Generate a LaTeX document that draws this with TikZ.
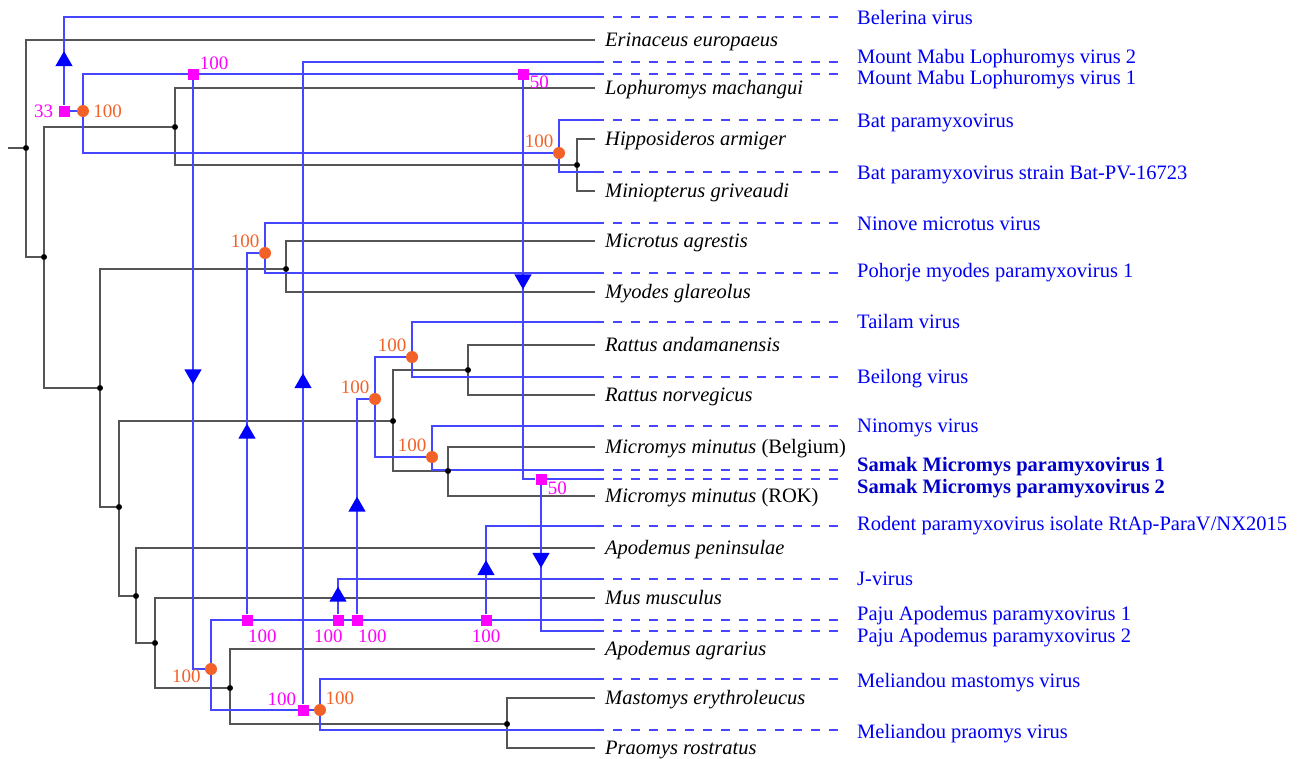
\documentclass[tikz,border=0pt]{standalone}
\usepackage{fontspec}
\setmainfont{Liberation Serif}
\usetikzlibrary{shapes.geometric,backgrounds}

\definecolor{azul}{RGB}{70,70,255}
\definecolor{azulfuerte}{RGB}{0,0,255}
\definecolor{azultexto}{RGB}{0,0,245}
\definecolor{azulsamak}{RGB}{0,0,200}
\definecolor{rosa}{RGB}{255,0,255}
\definecolor{naranja}{RGB}{242,98,40}
\definecolor{gris}{RGB}{85,85,85}

\tikzset{
  huesped/.style={draw=gris, line width=1.2pt},
  virus/.style={draw=azul, line width=1.2pt},
  guion/.style={draw=azul, line width=1.2pt, dash pattern=on 9pt off 9pt},
  punto/.style={circle, fill=black, minimum size=6pt, inner sep=0pt},
  cosp/.style={circle, fill=naranja, minimum size=12pt, inner sep=0pt},
  dupl/.style={rectangle, fill=rosa, minimum size=11pt, inner sep=0pt},
  arriba/.style={regular polygon, regular polygon sides=3, fill=azulfuerte, minimum size=20pt, inner sep=0pt},
  abajo/.style={arriba, regular polygon rotate=180},
  nomhue/.style={anchor=west, inner xsep=10pt, inner ysep=1pt, text height=13.5pt, text depth=0pt,
    font=\fontsize{20.5}{24}\selectfont\itshape},
  nomvir/.style={anchor=west, inner xsep=12pt, inner ysep=1pt, text height=13.5pt, text depth=0pt,
    text=azultexto, font=\fontsize{20.5}{24}\selectfont},
  numr/.style={text=rosa, inner sep=1pt, font=\fontsize{19}{19}\selectfont},
  numn/.style={numr, text=naranja},
}

\begin{document}
\begin{tikzpicture}[x=1pt, y=-1pt]
  \useasboundingbox (0,0) rectangle (1298,758);

  % Arbol de huespedes
  \coordinate (raiz) at (8,148);
  \node[punto] (hR) at (26,148) {};
  \node[punto] (hA) at (44,257) {};
  \node[punto] (hB) at (175,127) {};
  \node[punto] (hC) at (577,165) {};
  \node[punto] (hD) at (100,388) {};
  \node[punto] (hE) at (286,269) {};
  \node[punto] (hF) at (119,507) {};
  \node[punto] (hG) at (393,421) {};
  \node[punto] (hI) at (468,370) {};
  \node[punto] (hJ) at (448,471) {};
  \node[punto] (hH) at (136,596) {};
  \node[punto] (hK) at (155,643) {};
  \node[punto] (hL) at (230,688) {};
  \node[punto] (hM) at (507,724) {};

  % Nombres de huespedes
  \node[nomhue] (lEri) at (595,40) {Erinaceus europaeus};
  \node[nomhue] (lLop) at (595,88) {Lophuromys machangui};
  \node[nomhue] (lHip) at (595,139) {Hipposideros armiger};
  \node[nomhue] (lMin) at (595,191) {Miniopterus griveaudi};
  \node[nomhue] (lMic) at (595,241) {Microtus agrestis};
  \node[nomhue] (lMyo) at (595,292) {Myodes glareolus};
  \node[nomhue] (lRan) at (595,345) {Rattus andamanensis};
  \node[nomhue] (lRno) at (595,395) {Rattus norvegicus};
  \node[nomhue] (lMmb) at (595,447) {Micromys minutus \textup{(Belgium)}};
  \node[nomhue] (lMmr) at (595,496) {Micromys minutus \textup{(ROK)}};
  \node[nomhue] (lApe) at (595,548) {Apodemus peninsulae};
  \node[nomhue] (lMus) at (595,598) {Mus musculus};
  \node[nomhue] (lAag) at (595,649) {Apodemus agrarius};
  \node[nomhue] (lMas) at (595,698) {Mastomys erythroleucus};
  \node[nomhue] (lPra) at (595,748) {Praomys rostratus};

  % Eventos del arbol de virus
  \node[dupl, label={[numr, label distance=4pt]left:33}] (d33) at (64,111) {};
  \node[cosp, label={[numn, label distance=3pt]right:100}] (cA) at (83,111) {};
  \node[dupl, label={[numr, yshift=-3pt]north east:100}] (d193) at (193,74) {};
  \node[dupl, label={[numr, yshift=-8pt]east:50}] (d523) at (523,74) {};
  \node[cosp, label={[numn]135:100}] (cBat) at (559,153) {};
  \node[cosp, label={[numn]135:100}] (cNin) at (265,253) {};
  \node[cosp, label={[numn]135:100}] (cT) at (412,357) {};
  \node[cosp, label={[numn]135:100}] (cR) at (375,399) {};
  \node[cosp, label={[numn]135:100}] (cN) at (432,457) {};
  \node[dupl, label={[numr, yshift=-9pt]east:50}] (d541) at (541,479) {};
  \node[dupl, label={[numr, anchor=north west, yshift=-3pt]south:100}] (d247) at (247,620) {};
  \node[dupl, label={[numr, anchor=north east, yshift=-3pt]south east:100}] (d338) at (338,620) {};
  \node[dupl, label={[numr, anchor=north west, yshift=-3pt]south:100}] (d357) at (357,620) {};
  \node[dupl, label={[numr, yshift=-3pt]below:100}] (d486) at (486,620) {};
  \node[cosp, label={[numn, anchor=north east, xshift=-3pt]west:100}] (cP) at (211,669) {};
  \node[dupl, label={[numr, yshift=-3pt]north west:100}] (d303) at (303,710) {};
  \node[cosp, label={[numn]45:100}] (cMel) at (320,710) {};

  % Hojas de virus
  \coordinate (vBel) at (595,17);
  \coordinate (vMM2) at (595,62);
  \coordinate (vMM1) at (595,74);
  \coordinate (vBat1) at (595,120);
  \coordinate (vBat2) at (595,172);
  \coordinate (vNin) at (595,223);
  \coordinate (vPoh) at (595,273);
  \coordinate (vTai) at (595,322);
  \coordinate (vBei) at (595,377);
  \coordinate (vNmy) at (595,426);
  \coordinate (vSam1) at (595,470);
  \coordinate (vSam2) at (595,479);
  \coordinate (vRod) at (595,526);
  \coordinate (vJ) at (595,579);
  \coordinate (vPaj1) at (595,620);
  \coordinate (vPaj2) at (595,631);
  \coordinate (vMel1) at (595,679);
  \coordinate (vMel2) at (595,730);

  % Nombres de virus
  \node[nomvir] (lBel) at (845,18) {Belerina virus};
  \node[nomvir] (lMM2) at (845,57) {Mount Mabu Lophuromys virus 2};
  \node[nomvir] (lMM1) at (845,78) {Mount Mabu Lophuromys virus 1};
  \node[nomvir] (lBat1) at (845,121) {Bat paramyxovirus};
  \node[nomvir] (lBat2) at (845,173) {Bat paramyxovirus strain Bat-PV-16723};
  \node[nomvir] (lNin) at (845,224) {Ninove microtus virus};
  \node[nomvir] (lPoh) at (845,271) {Pohorje myodes paramyxovirus 1};
  \node[nomvir] (lTai) at (845,322) {Tailam virus};
  \node[nomvir] (lBei) at (845,377) {Beilong virus};
  \node[nomvir] (lNmy) at (845,426) {Ninomys virus};
  \node[nomvir, text=azulsamak] (lSam1) at (845,465) {\textbf{Samak Micromys paramyxovirus 1}};
  \node[nomvir, text=azulsamak] (lSam2) at (845,487) {\textbf{Samak Micromys paramyxovirus 2}};
  \node[nomvir] (lRod) at (845,524) {Rodent paramyxovirus isolate RtAp-ParaV/NX2015};
  \node[nomvir] (lJ) at (845,579) {J-virus};
  \node[nomvir] (lPaj1) at (845,614) {Paju Apodemus paramyxovirus 1};
  \node[nomvir] (lPaj2) at (845,636) {Paju Apodemus paramyxovirus 2};
  \node[nomvir] (lMel1) at (845,681) {Meliandou mastomys virus};
  \node[nomvir] (lMel2) at (845,732) {Meliandou praomys virus};

  \begin{pgfonlayer}{background}
    % Ramas de huespedes
    \draw[huesped] (raiz) -- (hR);
    \draw[huesped] (hR) |- (lEri.west);
    \draw[huesped] (hR) |- (hA);
    \draw[huesped] (hA) |- (hB);
    \draw[huesped] (hA) |- (hD);
    \draw[huesped] (hB) |- (lLop.west);
    \draw[huesped] (hB) |- (hC);
    \draw[huesped] (hC) |- (lHip.west);
    \draw[huesped] (hC) |- (lMin.west);
    \draw[huesped] (hD) |- (hE);
    \draw[huesped] (hD) |- (hF);
    \draw[huesped] (hE) |- (lMic.west);
    \draw[huesped] (hE) |- (lMyo.west);
    \draw[huesped] (hF) |- (hG);
    \draw[huesped] (hF) |- (hH);
    \draw[huesped] (hG) |- (hI);
    \draw[huesped] (hG) |- (hJ);
    \draw[huesped] (hI) |- (lRan.west);
    \draw[huesped] (hI) |- (lRno.west);
    \draw[huesped] (hJ) |- (lMmb.west);
    \draw[huesped] (hJ) |- (lMmr.west);
    \draw[huesped] (hH) |- (lApe.west);
    \draw[huesped] (hH) |- (hK);
    \draw[huesped] (hK) |- (lMus.west);
    \draw[huesped] (hK) |- (hL);
    \draw[huesped] (hL) |- (lAag.west);
    \draw[huesped] (hL) |- (hM);
    \draw[huesped] (hM) |- (lMas.west);
    \draw[huesped] (hM) |- (lPra.west);

    % Ramas de virus
    \draw[virus] (d33) |- node[pos=.25, arriba] (f1) {} (vBel);
    \draw[virus] (d33) -- (cA);
    \draw[virus] (cA) |- (vMM1);
    \draw[virus] (cA) |- (cBat);
    \draw[virus] (cBat) |- (vBat1);
    \draw[virus] (cBat) |- (vBat2);
    \draw[virus] (d193) |- node[pos=.25, abajo] (f2) {} (cP);
    \draw[virus] (d523) |- node[pos=.25, abajo] (f3) {} (d541);
    \draw[virus] (d541) -- (vSam2);
    \draw[virus] (d541) |- node[pos=.25, abajo] (f4) {} (vPaj2);
    \draw[virus] (cP) |- (vPaj1);
    \draw[virus] (cP) |- (cMel);
    \draw[virus] (d303) |- node[pos=.25, arriba] (f5) {} (vMM2);
    \draw[virus] (cMel) |- (vMel1);
    \draw[virus] (cMel) |- (vMel2);
    \draw[virus] (d247) |- node[pos=.25, arriba] (f6) {} (cNin);
    \draw[virus] (cNin) |- (vNin);
    \draw[virus] (cNin) |- (vPoh);
    \draw[virus] (d338) |- node[pos=.25, arriba] (f7) {} (vJ);
    \draw[virus] (d357) |- node[pos=.25, arriba] (f8) {} (cR);
    \draw[virus] (cR) |- (cT);
    \draw[virus] (cR) |- (cN);
    \draw[virus] (cT) |- (vTai);
    \draw[virus] (cT) |- (vBei);
    \draw[virus] (cN) |- (vNmy);
    \draw[virus] (cN) |- (vSam1);
    \draw[virus] (d486) |- node[pos=.25, arriba] (f9) {} (vRod);

    % Lineas punteadas hasta los nombres
    \foreach \v/\l in {vBel/lBel, vMM2/lMM2, vMM1/lMM1, vBat1/lBat1, vBat2/lBat2,
        vNin/lNin, vPoh/lPoh, vTai/lTai, vBei/lBei, vNmy/lNmy, vSam1/lSam1,
        vSam2/lSam2, vRod/lRod, vJ/lJ, vPaj1/lPaj1, vPaj2/lPaj2, vMel1/lMel1, vMel2/lMel2}
      \draw[guion] (\v) -- (\v -| \l.west);
  \end{pgfonlayer}
\end{tikzpicture}
\end{document}
